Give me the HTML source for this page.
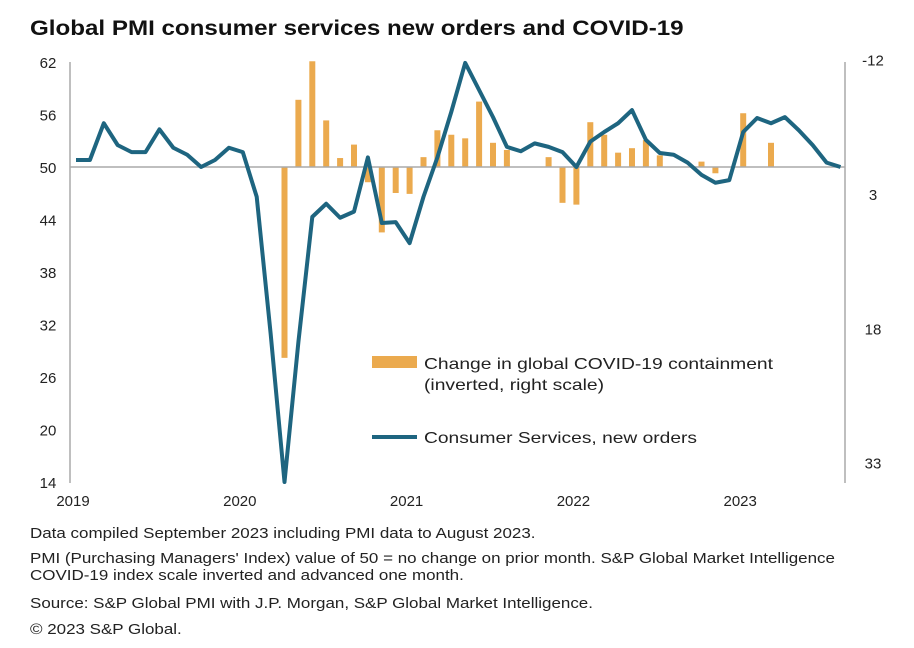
<!DOCTYPE html>
<html><head><meta charset="utf-8"><style>
body{margin:0;background:#fff;font-family:"Liberation Sans",sans-serif;}
svg text{font-family:"Liberation Sans",sans-serif;}
.note{position:absolute;left:30px;font-size:14.5px;color:#222;line-height:17px;transform:scaleX(1.17);transform-origin:0 0;white-space:nowrap;}
</style></head><body>
<div style="position:relative;width:914px;height:648px;overflow:hidden">
<div style="position:absolute;left:30px;top:17px;font-size:21px;font-weight:bold;color:#111;transform:scaleX(1.15);transform-origin:0 0;white-space:nowrap">Global PMI consumer services new orders and COVID-19</div>
<svg id="chart" width="914" height="648" style="position:absolute;left:0;top:0"></svg>
<div class="note" style="top:526px">Data compiled September 2023 including PMI data to August 2023.</div>
<div class="note" style="top:551px">PMI (Purchasing Managers' Index) value of 50 = no change on prior month. S&amp;P Global Market Intelligence<br>COVID-19 index scale inverted and advanced one month.</div>
<div class="note" style="top:596px">Source: S&amp;P Global PMI with J.P. Morgan, S&amp;P Global Market Intelligence.</div>
<div class="note" style="top:622px">© 2023 S&amp;P Global.</div>
</div>
<script>
const pmiValues=[50.8,50.8,55.0,52.5,51.7,51.7,54.3,52.2,51.4,50.0,50.8,52.2,51.7,46.6,31,14,30,44.3,45.8,44.2,44.9,51.1,43.6,43.7,41.3,46.6,51.1,56.3,61.9,58.8,55.7,52.3,51.8,52.7,52.3,51.7,50.0,52.9,54.0,55.0,56.5,53.1,51.6,51.4,50.5,49.1,48.2,48.5,54.0,55.6,55.0,55.7,54.2,52.5,50.5,50.0];
const covidValues=[0,0,0,0,0,0,0,0,0,0,0,0,0,0,0,21.3,-7.5,-11.8,-5.2,-1.0,-2.5,1.7,7.3,2.9,3.0,-1.1,-4.1,-3.6,-3.2,-7.3,-2.7,-1.9,0,0,-1.1,4.0,4.2,-5.0,-3.6,-1.6,-2.1,-3.0,-1.3,0,0,-0.6,0.7,0,-6.0,0,-2.7,0,0,0,0,0];
const leftTicks=[62,56,50,44,38,32,26,20,14];
const rightTicks=[-12,3,18,33];
const yearLabels=["2019","2020","2021","2022","2023"];
const NS="http://www.w3.org/2000/svg";
const svg=document.getElementById('chart');
function xOf(i){return 76+i*13.9;}
function yL(v){return 167-(v-50)*8.75;}
function yR(v){return 167+v*8.96;}
function mk(t,a){const e=document.createElementNS(NS,t);for(const k in a)e.setAttribute(k,a[k]);svg.appendChild(e);return e;}
let e;
e=mk('line',{x1:70,y1:62,x2:70,y2:483,stroke:'#aaa','stroke-width':1.5});


e=mk('line',{x1:845,y1:62,x2:845,y2:483,stroke:'#aaa','stroke-width':1.5});


covidValues.forEach((v,i)=>{if(v===0)return;const y0=yR(0),y1=yR(v);
 const b=mk('rect',{x:xOf(i)-3,y:Math.min(y0,y1),width:6,height:Math.abs(y1-y0),fill:'#EBAA4E'});
 
 });
e=mk('line',{x1:70,y1:167,x2:845,y2:167,stroke:'#aaa','stroke-width':1.5});


e=mk('polyline',{points:pmiValues.map((v,i)=>xOf(i)+','+yL(v)).join(' '),fill:'none',stroke:'#1E6580','stroke-width':4,'stroke-linejoin':'round'});


leftTicks.forEach(v=>{const t=mk('text',{x:48,y:yL(v)+6,'text-anchor':'middle','font-size':15,fill:'#222'});t.textContent=v;
 
 });
rightTicks.forEach(v=>{const t=mk('text',{x:873,y:yR(v)+6,'text-anchor':'middle','font-size':15,fill:'#222'});t.textContent=v;
 
 });
yearLabels.forEach((s,i)=>{const t=mk('text',{x:xOf(i*12)-3,y:506,'text-anchor':'middle','font-size':15,fill:'#222'});t.textContent=s;
 
 });
e=mk('rect',{x:372,y:356,width:45,height:12,fill:'#EBAA4E'});


e=mk('text',{x:424,y:369,'font-size':16,fill:'#222',textLength:349,lengthAdjust:'spacingAndGlyphs'});e.textContent='Change in global COVID-19 containment';


e=mk('text',{x:424,y:390,'font-size':16,fill:'#222',textLength:180,lengthAdjust:'spacingAndGlyphs'});e.textContent='(inverted, right scale)';


e=mk('line',{x1:372,y1:437,x2:417,y2:437,stroke:'#1E6580','stroke-width':4});


e=mk('text',{x:424,y:443,'font-size':16,fill:'#222',textLength:273,lengthAdjust:'spacingAndGlyphs'});e.textContent='Consumer Services, new orders';


</script>
</body></html>
